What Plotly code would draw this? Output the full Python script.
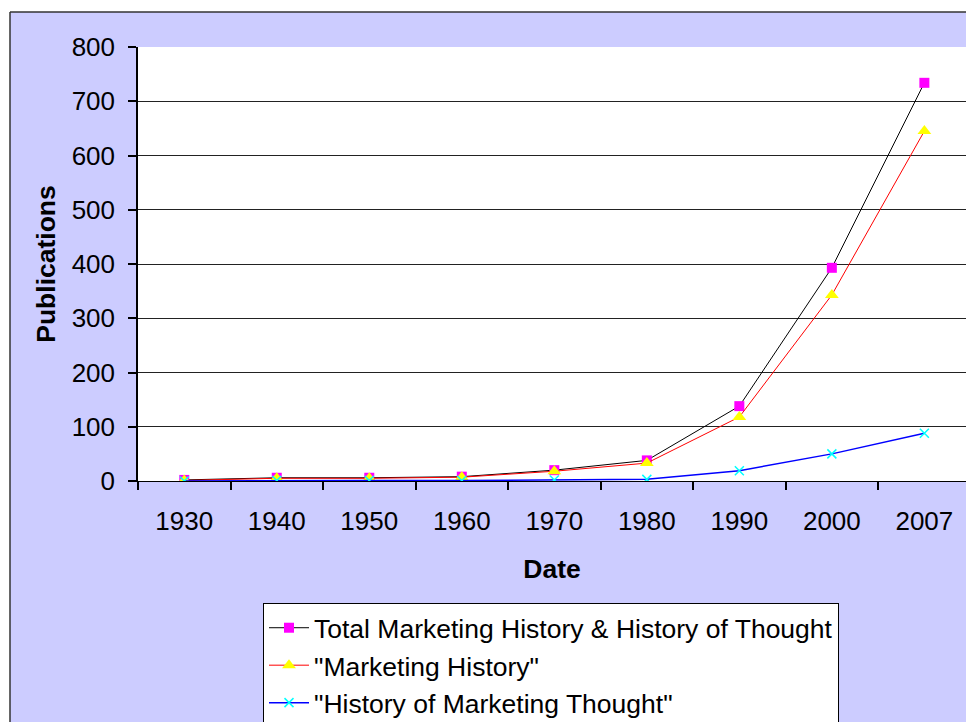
import plotly.graph_objects as go

years = ["1930", "1940", "1950", "1960", "1970", "1980", "1990", "2000", "2007"]
total = [2, 6, 6, 8, 20, 38, 138, 393, 734]
marketing_history = [1, 5, 5, 7, 18, 33, 118, 343, 645]
marketing_thought = [0, 1, 1, 1, 2, 3, 19, 50, 88]
y_ticks = [0, 100, 200, 300, 400, 500, 600, 700, 800]

W, H = 966, 722
L, R, T, B = 138, 0, 47, 241
pw, ph = W - L - R, H - T - B

def px_x(x):  # page pixel -> paper fraction
    return (x - L) / pw

def px_y(y):
    return (H - B - y) / ph

FONT = "Liberation Sans, Arial, sans-serif"

fig = go.Figure()
fig.add_trace(go.Scatter(
    x=years, y=total, name="Total Marketing History & History of Thought",
    mode="lines+markers", line=dict(color="black", width=1),
    marker=dict(symbol="square", color="#FF00FF", size=10)))
fig.add_trace(go.Scatter(
    x=years, y=marketing_history, name='"Marketing History"',
    mode="lines+markers", line=dict(color="#FF0000", width=1),
    marker=dict(symbol="triangle-up", color="#FFFF00", size=12)))
fig.add_trace(go.Scatter(
    x=years, y=marketing_thought, name='"History of Marketing Thought"',
    mode="lines+markers", line=dict(color="#0000FF", width=1.5),
    marker=dict(symbol="x-thin", size=9, line=dict(color="#00FFFF", width=1.5))))

shapes = [
    dict(type="rect", xref="paper", yref="paper", x0=px_x(-20), x1=px_x(1000),
         y0=px_y(12), y1=px_y(-20), fillcolor="white", line=dict(width=0), layer="below"),
    dict(type="rect", xref="paper", yref="paper", x0=px_x(-20), x1=px_x(10),
         y0=px_y(-20), y1=px_y(760), fillcolor="white", line=dict(width=0), layer="below"),
    dict(type="line", xref="paper", yref="paper", x0=px_x(10), x1=px_x(1000),
         y0=px_y(12), y1=px_y(12), line=dict(color="#333333", width=1.5)),
    dict(type="line", xref="paper", yref="paper", x0=px_x(10), x1=px_x(10),
         y0=px_y(12), y1=px_y(760), line=dict(color="#333333", width=1.5)),
]

fig.update_layout(
    width=W, height=H,
    margin=dict(l=L, r=R, t=T, b=B, pad=0, autoexpand=False),
    paper_bgcolor="#CCCCFF",
    plot_bgcolor="white",
    font=dict(family=FONT, color="black", size=26),
    showlegend=True,
    legend=dict(
        x=px_x(263), y=px_y(603), xanchor="left", yanchor="top",
        bgcolor="white", bordercolor="black", borderwidth=1,
        font=dict(size=26.5, family=FONT),
        itemwidth=40, tracegroupgap=0,
    ),
    shapes=shapes,
    xaxis=dict(
        type="category", range=[-0.5, 8.45],
        showgrid=False, showline=True, linecolor="black", linewidth=1,
        ticks="outside", tickson="boundaries", ticklen=8, tickcolor="black", tickwidth=1.5,
        tickfont=dict(size=26), ticklabelstandoff=17,
        title=dict(text="<b>Date</b>", font=dict(size=26.5), standoff=24),
        zeroline=False, fixedrange=True,
    ),
    yaxis=dict(
        range=[0, 800], tickvals=y_ticks,
        showgrid=True, gridcolor="#222222", gridwidth=1,
        showline=True, linecolor="black", linewidth=1.5,
        ticks="outside", ticklen=8, tickcolor="black", tickwidth=1.5,
        tickfont=dict(size=26), ticklabelstandoff=8,
        title=dict(text="<b>Publications</b>", font=dict(size=26.5), standoff=8),
        zeroline=True, zerolinecolor="black", zerolinewidth=1.5,
    ),
)

fig.write_html("out.html", config={"displayModeBar": False},
               post_script="document.body.style.margin='0';document.body.style.overflow='hidden';")
